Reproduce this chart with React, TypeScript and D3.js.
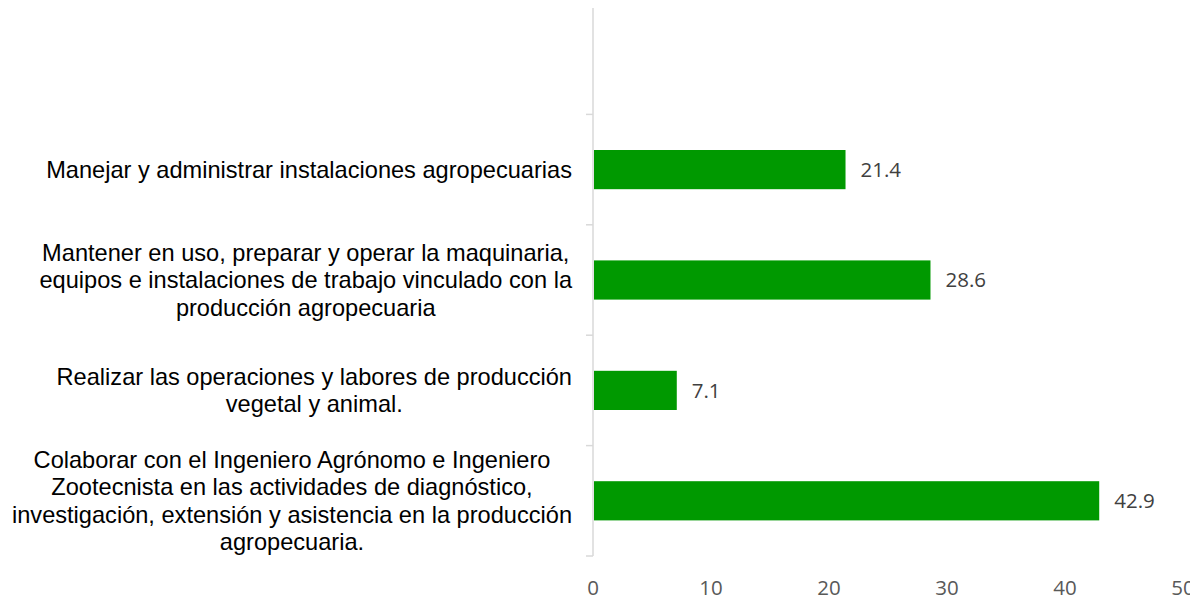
import React, { useEffect, useRef } from "react";
import * as d3 from "d3";

// categories top to bottom; first band is empty in the source chart
const categories = [
  "",
  "Manejar y administrar instalaciones agropecuarias",
  "Mantener en uso, preparar y operar la maquinaria,|equipos e instalaciones de trabajo vinculado con la|producción agropecuaria",
  "Realizar las operaciones y labores de producción|vegetal y animal.",
  "Colaborar con el Ingeniero Agrónomo e Ingeniero|Zootecnista en las actividades de diagnóstico,|investigación, extensión y asistencia en la producción|agropecuaria.",
];
const values: (number | null)[] = [null, 21.4, 28.6, 7.1, 42.9];
const xTicks = [0, 10, 20, 30, 40, 50];

const W = 1198;
const H = 600;

export default function App() {
  const ref = useRef<SVGSVGElement>(null);

  useEffect(() => {
    const svg = d3.select(ref.current);
    svg.selectAll("*").remove();

    const left = 593, right = 1183, top = 4, bottom = 556;

    const x = d3.scaleLinear().domain([0, 50]).range([left, right]);
    const y = d3.scaleBand().domain(categories.map((_, i) => String(i))).range([top, bottom]).paddingInner(0.645).paddingOuter(0.3225);
    const band = d3.scaleBand().domain(categories.map((_, i) => String(i))).range([top, bottom]);

    // axis line + ticks
    const axis = svg.append("g");
    axis.append("line")
      .attr("x1", left).attr("x2", left).attr("y1", top).attr("y2", bottom)
      .attr("stroke", "#d9d9d9").attr("stroke-width", 1.5);
    const tickYs = categories.map((_, i) => band(String(i))!).concat([bottom]);
    axis.selectAll(".tk").data(tickYs).join("line")
      .attr("x1", left - 7).attr("x2", left).attr("y1", d => d).attr("y2", d => d)
      .attr("stroke", "#d9d9d9").attr("stroke-width", 1.5);

    // bars
    const rows = categories.map((c, i) => ({ c, v: values[i], k: String(i) }));
    svg.selectAll(".bar").data(rows.filter(r => r.v != null)).join("rect")
      .attr("x", left + 1)
      .attr("y", d => y(d.k)!)
      .attr("width", d => x(d.v as number) - left - 1)
      .attr("height", y.bandwidth())
      .attr("fill", "#009900");

    // value labels
    svg.selectAll(".val").data(rows.filter(r => r.v != null)).join("text")
      .attr("x", d => x(d.v as number) + 15)
      .attr("y", d => y(d.k)! + y.bandwidth() / 2)
      .attr("dy", "0.36em")
      .attr("font-family", "'Open Sans', sans-serif")
      .attr("font-size", 20.5)
      .attr("fill", "#404040")
      .text(d => (d.v as number).toFixed(1));

    // x tick labels
    svg.selectAll(".xt").data(xTicks).join("text")
      .attr("x", d => x(d))
      .attr("y", 595)
      .attr("text-anchor", "middle")
      .attr("font-family", "'Open Sans', sans-serif")
      .attr("font-size", 20.5)
      .attr("fill", "#595959")
      .text(d => d);

    // category labels: block right-aligned at 572, lines centered in block
    const lineH = 27.5;
    rows.forEach(r => {
      if (!r.c) return;
      const lines = r.c.split("|");
      const g = svg.append("g");
      const cy = band(r.k)! + band.bandwidth() / 2;
      const t = g.selectAll("text").data(lines).join("text")
        .attr("y", (_, i) => cy + (i - (lines.length - 1) / 2) * lineH)
        .attr("dy", "0.35em")
        .attr("text-anchor", "middle")
        .attr("font-family", "'Liberation Sans', Arial, sans-serif")
        .attr("font-size", 23.6)
        .attr("fill", "#000")
        .text(d => d);
      let maxW = 0;
      t.each(function () {
        maxW = Math.max(maxW, (this as SVGTextElement).getComputedTextLength());
      });
      t.attr("x", 572 - maxW / 2);
    });
  }, []);

  // svg sits at the body's 8px offset; viewBox shifts content back to page coords
  return <svg ref={ref} width={W} height={H} viewBox={`8 8 ${W} ${H}`} style={{ display: "block" }} />;
}
